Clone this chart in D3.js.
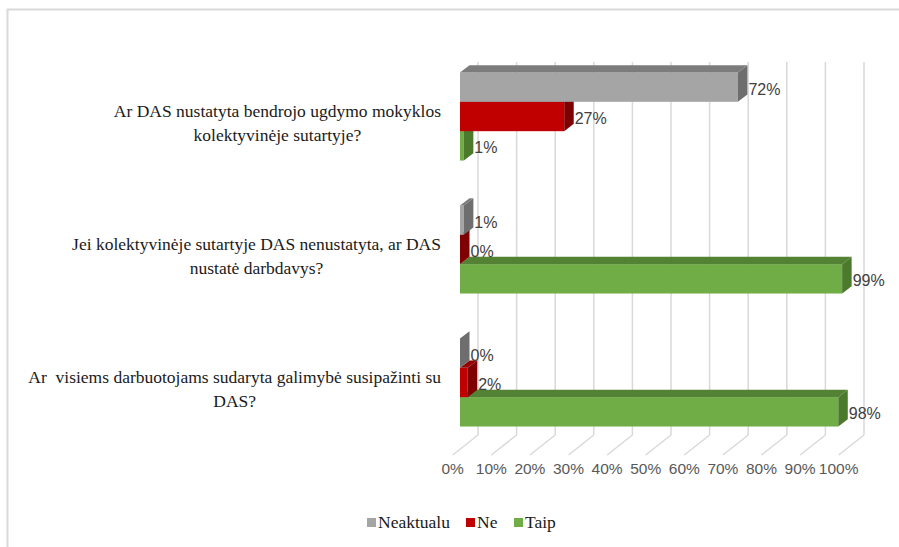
<!DOCTYPE html>
<html>
<head>
<meta charset="utf-8">
<script src="https://cdn.jsdelivr.net/npm/d3@7"></script>
<style>
  body { margin: 0; background: #fff; }
</style>
</head>
<body>
<svg width="899" height="547"></svg>
<script>
var categories = [
  ["Ar DAS nustatyta bendrojo ugdymo mokyklos", "kolektyvinėje sutartyje?"],
  ["Jei kolektyvinėje sutartyje DAS nenustatyta, ar DAS", "nustatė darbdavys?"],
  ["Ar  visiems darbuotojams sudaryta galimybė susipažinti su", "DAS?"]
];
var seriesNames = ["Neaktualu", "Ne", "Taip"];
var neaktualu = [72, 1, 0];
var ne = [27, 0, 2];
var taip = [1, 99, 98];
var ticks = [0, 10, 20, 30, 40, 50, 60, 70, 80, 90, 100];

var values = [neaktualu, ne, taip];
var colors = [
  { front: "#a5a5a5", top: "#7c7c7c", side: "#6e6e6e" },
  { front: "#c00000", top: "#960000", side: "#7f0000" },
  { front: "#70ad47", top: "#548235", side: "#4b7a2c" }
];
var serif = "'Liberation Serif', 'Times New Roman', serif";
var sans = "'Liberation Sans', Arial, sans-serif";

var svg = d3.select("svg");

// depth of the bars and of the back wall
var bdx = 9.5, bdy = -7.3;
var wdx = 18, wtop = 62, wbottom = 435, fdx = -7.3, fbottom = 455;

var x = d3.scaleLinear().domain([0, 100]).range([460, 846]);
var y = d3.scaleBand().domain(d3.range(categories.length)).range([50, 449])
  .paddingInner(0.338).paddingOuter(0.169);
var ys = d3.scaleBand().domain(d3.range(seriesNames.length)).range([0, y.bandwidth()]);

// frame
svg.append("rect")
  .attr("x", 7.5).attr("y", 9.5).attr("width", 1000).attr("height", 600)
  .attr("fill", "none").attr("stroke", "#d9d9d9").attr("stroke-width", 2);

// back wall gridlines + floor
var grid = svg.append("g").attr("class", "grid");
ticks.forEach(function (t) {
  grid.append("line")
    .attr("x1", x(t) + wdx).attr("x2", x(t) + wdx)
    .attr("y1", wtop).attr("y2", wbottom)
    .attr("stroke", "#d9d9d9").attr("stroke-width", 1.5);
  grid.append("line")
    .attr("x1", x(t) + wdx).attr("y1", wbottom)
    .attr("x2", x(t) + fdx).attr("y2", fbottom)
    .attr("stroke", "#d9d9d9").attr("stroke-width", 1.5);
});

// tick labels
svg.append("g").selectAll("text").data(ticks).enter().append("text")
  .style("font-family", sans)
  .style("font-size", "15.5px")
  .attr("x", function (d) { return x(d) + fdx; })
  .attr("y", 474)
  .attr("text-anchor", "middle")
  .attr("fill", "#595959")
  .text(function (d) { return d + "%"; });

// bars, drawn bottom series first so upper bars cover lower top faces
var bars = svg.append("g").attr("class", "bars");
categories.forEach(function (c, ci) {
  for (var si = seriesNames.length - 1; si >= 0; si--) {
    var v = values[si][ci];
    var x0 = x(0), x1 = x(v);
    var y0 = y(ci) + ys(si), y1 = y0 + ys.bandwidth();
    var col = colors[si];
    var g = bars.append("g");
    g.append("rect")
      .attr("x", x0).attr("y", y0).attr("width", x1 - x0).attr("height", y1 - y0)
      .attr("fill", col.front);
    g.append("path")
      .attr("d", "M" + x0 + "," + y0 + "L" + x1 + "," + y0 + "L" + (x1 + bdx) + "," + (y0 + bdy) +
        "L" + (x0 + bdx) + "," + (y0 + bdy) + "Z")
      .attr("fill", col.top);
    g.append("path")
      .attr("d", "M" + x1 + "," + y0 + "L" + (x1 + bdx) + "," + (y0 + bdy) + "L" + (x1 + bdx) + "," + (y1 + bdy) +
        "L" + x1 + "," + y1 + "Z")
      .attr("fill", col.side);
  }
});

// value labels
var labels = svg.append("g");
categories.forEach(function (c, ci) {
  seriesNames.forEach(function (s, si) {
    var v = values[si][ci];
    labels.append("text")
      .style("font-family", sans)
      .style("font-size", "16px")
      .attr("x", x(v) + bdx + 1)
      .attr("y", y(ci) + ys(si) + ys.bandwidth() / 2 + 7.5)
      .attr("fill", "#404040")
      .text(v + "%");
  });
});

// category labels
var cat = svg.append("g");
categories.forEach(function (lines, ci) {
  var t = cat.append("text")
    .style("font-family", serif)
    .style("font-size", "17.5px")
    .style("white-space", "pre")
    .attr("fill", "#1a1a1a")
    .attr("text-anchor", "middle");
  var spans = lines.map(function (l, li) {
    return t.append("tspan").attr("y", y(ci) + 44.5 + li * 24.5).text(l);
  });
  var w = d3.max(spans, function (sp) { return sp.node().getComputedTextLength(); });
  spans.forEach(function (sp) { sp.attr("x", 441 - w / 2); });
});

// legend
var legendX = [367, 466, 514];
var legend = svg.append("g");
seriesNames.forEach(function (s, si) {
  legend.append("rect")
    .attr("x", legendX[si]).attr("y", 518).attr("width", 9).attr("height", 9)
    .attr("fill", colors[si].front);
  legend.append("text")
    .style("font-family", serif)
    .style("font-size", "17.5px")
    .attr("x", legendX[si] + 11).attr("y", 528)
    .attr("fill", "#1a1a1a")
    .text(s);
});
</script>
</body>
</html>
